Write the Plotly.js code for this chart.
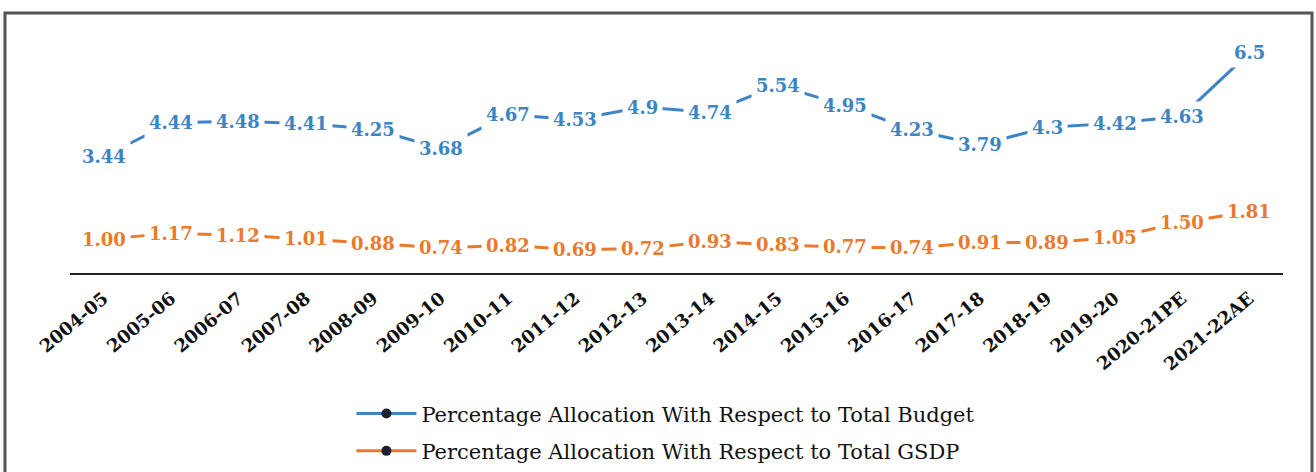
<!DOCTYPE html>
<html>
<head>
<meta charset="utf-8">
<script src="https://cdn.plot.ly/plotly-3.0.1.min.js"></script>
<style>
  html, body { margin: 0; padding: 0; background: #ffffff; }
  #chart { width: 1316px; height: 472px; }
</style>
</head>
<body>
<div id="chart"></div>
<script>
// Financial years on the x axis
const years = [
  "2004-05", "2005-06", "2006-07", "2007-08", "2008-09", "2009-10",
  "2010-11", "2011-12", "2012-13", "2013-14", "2014-15", "2015-16",
  "2016-17", "2017-18", "2018-19", "2019-20", "2020-21PE", "2021-22AE"
];

// Share of the total budget (%)
const budgetShare = [
  3.44, 4.44, 4.48, 4.41, 4.25, 3.68, 4.67, 4.53, 4.9,
  4.74, 5.54, 4.95, 4.23, 3.79, 4.3, 4.42, 4.63, 6.5
];

// Share of the total GSDP (%)
const gsdpShare = [
  1.00, 1.17, 1.12, 1.01, 0.88, 0.74, 0.82, 0.69, 0.72,
  0.93, 0.83, 0.77, 0.74, 0.91, 0.89, 1.05, 1.50, 1.81
];

const seriesNames = [
  "Percentage Allocation With Respect to Total Budget",
  "Percentage Allocation With Respect to Total GSDP"
];

const BLUE = "#3c84c4";
const ORANGE = "#e9792b";
const DOT = "#1c1f2b";

function lineTrace(name, values, color, group) {
  return {
    type: "scatter",
    mode: "lines+markers",
    name: name,
    x: years,
    y: values,
    legendgroup: group,
    line: { color: color, width: 3 },
    marker: { color: DOT, size: 10 },
    hoverinfo: "skip"
  };
}

// Value labels sit on the points, with a white box that breaks the line
function valueLabels(values, color, fmt) {
  return values.map((v, i) => ({
    x: years[i],
    y: v,
    xref: "x",
    yref: "y",
    text: fmt(v),
    showarrow: false,
    bgcolor: "#ffffff",
    borderpad: 4,
    font: { family: "DejaVu Serif", size: 18, color: color, weight: "bold" }
  }));
}

const data = [
  lineTrace(seriesNames[0], budgetShare, BLUE, "g1"),
  lineTrace(seriesNames[1], gsdpShare, ORANGE, "g2")
];

const annotations = []
  .concat(valueLabels(budgetShare, BLUE, v => String(v)))
  .concat(valueLabels(gsdpShare, ORANGE, v => v.toFixed(2)));

const layout = {
  width: 1316,
  height: 472,
  paper_bgcolor: "#ffffff",
  plot_bgcolor: "#ffffff",
  margin: { l: 70, r: 33, t: 19, b: 199, autoexpand: false },
  showlegend: true,
  xaxis: {
    type: "category",
    range: [-0.5, years.length - 0.5],
    showgrid: false,
    zeroline: false,
    showline: true,
    linecolor: "#222222",
    linewidth: 2,
    ticks: "",
    tickangle: -40,
    ticklabelstandoff: 6,
    tickfont: { family: "DejaVu Serif", size: 18, color: "#111111", weight: "bold" },
    fixedrange: true
  },
  yaxis: {
    range: [0, 7.5],
    visible: false,
    showgrid: false,
    zeroline: false,
    fixedrange: true
  },
  legend: {
    orientation: "v",
    x: 0.232,
    xanchor: "left",
    y: -0.474,
    yanchor: "top",
    traceorder: "grouped",
    tracegroupgap: 7,
    itemwidth: 60,
    bgcolor: "rgba(0,0,0,0)",
    font: { family: "DejaVu Serif", size: 21, color: "#111111" }
  },
  annotations: annotations,
  shapes: [
    {
      type: "rect",
      xref: "paper",
      yref: "paper",
      x0: -0.0536, x1: 1.0239,
      y0: -0.83, y1: 1.0236,
      line: { color: "#555555", width: 3 },
      fillcolor: "rgba(0,0,0,0)",
      layer: "below"
    }
  ]
};

Plotly.newPlot("chart", data, layout, { staticPlot: true, displayModeBar: false });
</script>
</body>
</html>
